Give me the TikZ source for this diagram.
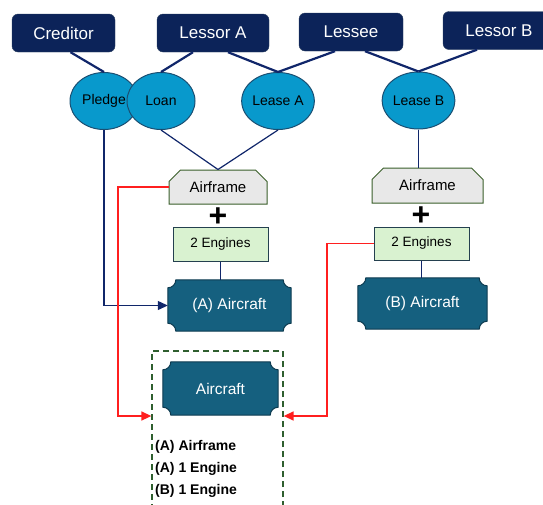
\documentclass[tikz,border=0pt]{standalone}
\usepackage{fontspec}
\setmainfont{Liberation Sans}
\usetikzlibrary{shapes.geometric,shapes.misc,arrows.meta,backgrounds}

\definecolor{partynavy}{HTML}{0C2359}
\definecolor{partyline}{HTML}{2A3F5F}
\definecolor{dealblue}{HTML}{0899CC}
\definecolor{dealline}{HTML}{1B4F72}
\definecolor{linknavy}{HTML}{10266A}
\definecolor{airgray}{HTML}{E8E8E8}
\definecolor{airline}{HTML}{3A5F2A}
\definecolor{enggreen}{HTML}{D9F2D0}
\definecolor{engline}{HTML}{24404F}
\definecolor{craftteal}{HTML}{15607F}
\definecolor{craftline}{HTML}{0D3B50}
\definecolor{transferred}{HTML}{FF1F1F}
\definecolor{pooldash}{HTML}{2F5F2F}

\tikzset{
  party/.style={draw=partyline, fill=partynavy, rounded corners=6pt, text=white,
    minimum height=38pt, inner sep=0pt, font=\fontsize{17}{19}\selectfont},
  deal/.style={ellipse, draw=dealline, fill=dealblue, line width=1pt, minimum width=68pt,
    minimum height=57pt, inner sep=0pt, font=\fontsize{14}{16}\selectfont},
  airbox/.style={chamfered rectangle, chamfered rectangle corners={north west,north east},
    chamfered rectangle xsep=6pt, chamfered rectangle ysep=6pt, draw=airline, fill=airgray,
    line width=1pt, inner sep=0pt, font=\fontsize{15}{17}\selectfont},
  engbox/.style={draw=engline, fill=enggreen, line width=1pt, minimum height=34pt,
    inner sep=0pt, font=\fontsize{13.5}{16}\selectfont},
  craft/.style={minimum height=51pt, inner sep=0pt, text=white,
    font=\fontsize{15.5}{18}\selectfont},
  craftedge/.style={draw=craftline, fill=craftteal, line width=1pt},
  plus/.style={inner sep=0pt, font=\fontsize{32}{32}\selectfont\bfseries},
  pool/.style={draw=pooldash, dashed, dash pattern=on 6pt off 4pt, line width=1.3pt},
  parts/.style={anchor=base west, inner sep=0pt, font=\fontsize{14}{16}\selectfont\bfseries},
  link/.style={draw=linknavy, line width=2.2pt},
  thinlink/.style={draw=linknavy, line width=1.2pt},
  transfer/.style={draw=transferred, line width=1.5pt, -{Triangle[length=10pt,width=9pt]}}
}

% plaque outline behind a node
\newcommand\plaque[1]{%
  \begin{scope}[on background layer]
    \draw [craftedge] ([xshift=8pt]#1.north west) -- ([xshift=-8pt]#1.north east)
      arc [start angle=180, end angle=270, radius=8pt] -- ([yshift=8pt]#1.south east)
      arc [start angle=90, end angle=180, radius=8pt] -- ([xshift=8pt]#1.south west)
      arc [start angle=0, end angle=90, radius=8pt] -- ([yshift=-8pt]#1.north west)
      arc [start angle=270, end angle=360, radius=8pt] -- cycle;
  \end{scope}}

\begin{document}
\begin{tikzpicture}[x=1pt, y=1pt]

  \useasboundingbox (0,0) rectangle (543,-504);

  % parties
  \node [party, minimum width=103pt] (creditor) at (63.5,-33) {Creditor};
  \node [party, minimum width=112pt] (lessorA) at (213,-33) {Lessor A};
  \node [party, minimum width=104pt] (lessee) at (351,-32) {Lessee};
  \node [party, minimum width=112pt] (lessorB) at (499,-30.5) {Lessor B};

  % contracts
  \node [deal] (pledge) at (104,-101) {Pledge};
  \node [deal] (loan) at (161,-101) {Loan};
  \node [deal, minimum width=70pt] (leaseA) at (278,-101) {Lease A};
  \node [deal, minimum width=69pt] (leaseB) at (418.5,-100.5) {Lease B};

  \draw [link] ([xshift=7pt]creditor.south) -- (pledge.north);
  \draw [link] ([xshift=-20pt]lessorA.south) -- (loan.north);
  \draw [link] ([xshift=15pt]lessorA.south) -- (leaseA.north);
  \draw [link] ([xshift=-16pt]lessee.south) -- (leaseA.north);
  \draw [link] ([xshift=14pt]lessee.south) -- (leaseB.north);
  \draw [link] ([xshift=-22pt]lessorB.south) -- (leaseB.north);

  % side A
  \node [airbox, minimum width=98pt, minimum height=34pt] (airA) at (218,-187) {Airframe};
  \node [plus] (plusA) at (218,-217) {+};
  \node [engbox, minimum width=95pt] (engA) at (220.5,-244) {2 Engines};
  \node [craft, minimum width=123pt] (craftA) at (229.5,-305.5) {(A) Aircraft};
  \plaque{craftA}

  % side B
  \node [airbox, minimum width=111pt, minimum height=35pt] (airB) at (427.5,-185.5) {Airframe};
  \node [plus] (plusB) at (421,-216) {+};
  \node [engbox, minimum width=95pt, minimum height=33pt] (engB) at (421.5,-243.5) {2 Engines};
  \node [craft, minimum width=129pt] (craftB) at (422.5,-303.5) {(B) Aircraft};
  \plaque{craftB}

  \draw [thinlink] (loan.south) -- (airA.north);
  \draw [thinlink] (leaseA.south) -- (airA.north);
  \draw [thinlink] (leaseB.south) -- (leaseB.south |- airB.north);
  \draw [thinlink] (engA.south) -- (engA.south |- craftA.north);
  \draw [thinlink] (engB.south) -- (engB.south |- craftB.north);
  \draw [thinlink, -{Triangle[length=10pt,width=9pt]}] (pledge.south) |- (craftA.west);

  % combined aircraft
  \node [pool, minimum width=131pt, minimum height=165pt] (pool) at (217.5,-433.5) {};
  \node [craft, minimum width=115pt, minimum height=53pt] (craftC) at (220.5,-388.5) {Aircraft};
  \plaque{craftC}
  \node [parts] (partsA) at (155,-450) {(A) Airframe};
  \node [parts] (partsB) at (155,-472) {(A) 1 Engine};
  \node [parts] (partsC) at (155,-494) {(B) 1 Engine};

  % swaps
  \coordinate (dropA) at (118,-416);
  \coordinate (dropB) at (327,-416);
  \draw [transfer] (airA.west) -| (dropA) -- (dropA -| pool.west);
  \draw [transfer] (engB.west) -| (dropB) -- (dropB -| pool.east);

\end{tikzpicture}
\end{document}
